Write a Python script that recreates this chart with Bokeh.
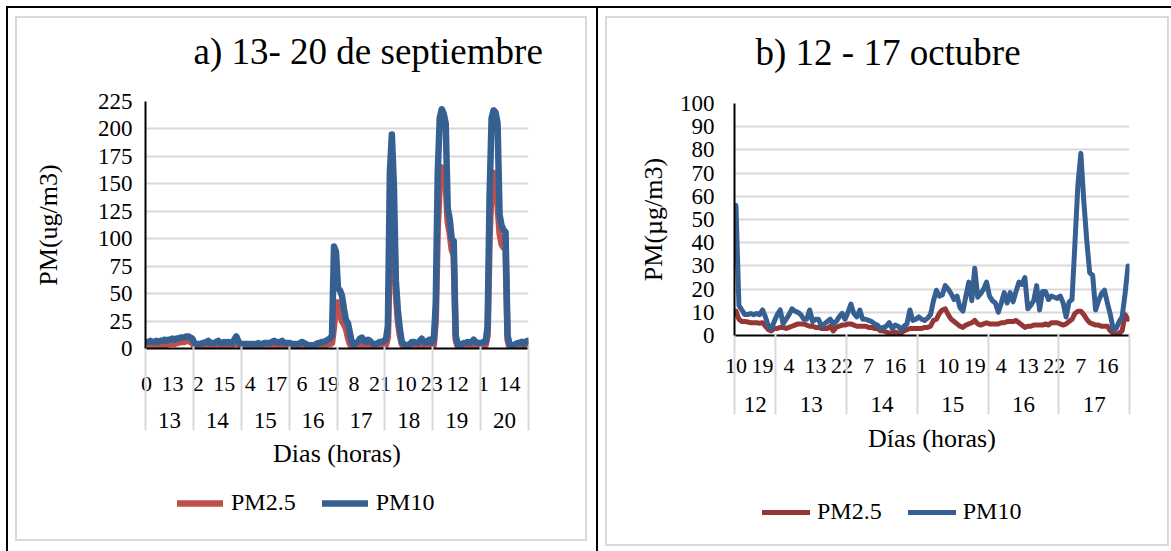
from bokeh.plotting import figure
from bokeh.models import (Range1d, FixedTicker, LinearAxis, Legend, LegendItem, Grid)
from bokeh.layouts import row, column
from bokeh.embed import file_html
from bokeh.resources import INLINE

# ---------------- data: a) 13 - 20 de septiembre (hourly) ----------------
sep_days = ["13", "14", "15", "16", "17", "18", "19", "20"]
sep_hour_labels = ["0", "13", "2", "15", "4", "17", "6", "19", "8", "21", "10", "23", "12", "1", "14"]
sep_pm10 = [
    [6, 6, 7, 6, 6, 7, 6, 7, 7, 8, 7, 8, 8, 9, 8, 9, 9, 10, 10, 10, 11, 11, 10, 9],
    [5, 4, 4, 4, 5, 5, 6, 7, 5, 5, 5, 6, 7, 5, 5, 6, 5, 6, 5, 5, 8, 11, 7, 4],
    [4, 4, 4, 4, 4, 4, 4, 4, 5, 4, 4, 5, 5, 5, 5, 6, 7, 6, 5, 6, 7, 5, 5, 5],
    [5, 4, 4, 4, 4, 5, 6, 5, 4, 3, 3, 3, 3, 4, 5, 5, 6, 6, 7, 8, 9, 12, 93, 88],
    [55, 53, 48, 36, 26, 23, 14, 5, 4, 5, 6, 9, 10, 7, 6, 8, 7, 5, 4, 4, 5, 6, 6, 7],
    [8, 20, 160, 195, 150, 62, 35, 18, 6, 4, 3, 3, 4, 6, 6, 5, 5, 7, 9, 6, 5, 7, 8, 5],
    [8, 40, 160, 210, 218, 214, 205, 128, 118, 100, 98, 12, 4, 3, 4, 5, 5, 6, 5, 6, 8, 6, 5, 5],
    [5, 6, 6, 20, 140, 210, 217, 215, 205, 122, 112, 108, 106, 12, 4, 3, 3, 4, 5, 5, 6, 4, 6, 7],
]
sep_pm25 = [
    [2, 3, 2, 2, 3, 3, 2, 3, 3, 4, 3, 4, 4, 5, 4, 5, 5, 6, 6, 6, 7, 7, 6, 5],
    [2, 1, 1, 1, 2, 2, 3, 3, 2, 2, 2, 3, 3, 2, 2, 3, 2, 3, 2, 2, 4, 6, 4, 2],
    [2, 2, 2, 2, 2, 2, 2, 2, 2, 2, 2, 2, 2, 2, 2, 3, 3, 4, 3, 2, 3, 3, 2, 2],
    [2, 1, 1, 1, 1, 2, 2, 2, 1, 0, 0, 0, 0, 1, 2, 2, 2, 3, 3, 4, 4, 5, 20, 38],
    [42, 32, 25, 22, 18, 10, 4, 1, 0, 0, 1, 3, 4, 3, 2, 3, 2, 1, 0, 0, 1, 2, 2, 3],
    [3, 10, 90, 130, 120, 50, 25, 12, 4, 1, 0, 1, 2, 3, 3, 2, 2, 3, 4, 3, 2, 3, 4, 2],
    [3, 25, 110, 150, 165, 160, 150, 115, 105, 90, 85, 8, 2, 1, 1, 2, 2, 3, 2, 3, 4, 3, 2, 2],
    [2, 3, 3, 12, 100, 150, 160, 150, 130, 105, 95, 92, 90, 8, 1, 1, 1, 2, 2, 2, 3, 2, 3, 4],
]

# ---------------- data: b) 12 - 17 octubre (hourly, from 10 h on the 12th) ----------------
oct_days = ["12", "13", "14", "15", "16", "17"]
oct_hour_labels = ["10", "19", "4", "13", "22", "7", "16", "1", "10", "19", "4", "13", "22", "7", "16"]
oct_pm10 = [
    [56, 13, 11, 9, 9, 9.5, 9, 9.5, 9, 11, 8, 4, 3, 6],
    [9, 11, 5, 7, 9, 11.5, 10.5, 10, 9, 7, 7, 11, 6, 7, 7, 4, 5, 6, 7, 5, 6, 8, 9.5, 7],
    [10, 13.5, 9.5, 8, 11, 7, 7, 6.5, 6, 5, 4.5, 3, 3.5, 4, 5.5, 3, 4.5, 4, 2.5, 4, 5, 11, 6.5, 7],
    [8, 7, 6.5, 7.5, 9, 15, 19.5, 17, 17.5, 21.5, 20, 18, 15.5, 17, 12, 10.5, 17, 23, 15, 29, 16.5, 18, 20, 23],
    [17, 15, 14, 10, 14, 18.5, 14, 18.5, 14.5, 19, 23, 22, 25, 11.5, 13, 15, 21.5, 11, 19, 19, 15.5, 17, 16.5, 16],
    [17, 14, 8, 14.5, 15.5, 40, 65, 78.5, 58, 41, 27, 26, 11, 15, 18, 19.5, 14, 9, 2.5, 3, 6, 8, 18, 30],
]
oct_pm25 = [
    [10.5, 7, 6, 6, 5.8, 5.5, 5.5, 5.5, 5.3, 5.5, 4, 2.5, 2, 3],
    [3, 3.5, 3.5, 3, 3.5, 4, 4.5, 5, 5, 5, 4.5, 4, 4, 3.5, 3.5, 3, 3, 3, 4, 2, 3.5, 4, 4.5, 4.5],
    [5, 5, 4.5, 4, 4, 4, 4, 3.5, 3.5, 3, 3, 2, 2, 1.5, 1, 1, 1.5, 1, 1, 2, 2.5, 3, 3, 3],
    [3, 3, 3.5, 3.5, 4, 6.5, 7, 9.5, 11, 11.5, 9, 7, 6, 5, 4, 3.5, 4.5, 5, 5.5, 6.5, 5, 4.5, 5, 5.5],
    [5, 5, 5, 5, 5.5, 5.5, 6, 6, 6, 6.5, 5.5, 4.5, 3.5, 4, 4, 4.5, 4.5, 4.5, 4.5, 5, 4.5, 5.5, 5.5, 5.5],
    [5, 4.5, 5, 6, 7, 9.5, 10.5, 10.5, 9, 7, 5.5, 5, 4.5, 4.5, 4, 4, 4, 2, 1, 0.5, 1, 2, 9, 7],
]

SERIF = "Liberation Serif"
GRID = "#D9D9D9"
BLUE = "#376092"


def frame_css(layers):
    """Inset box-shadows (first listed = on top) drawing page rules and chart-area border."""
    sh = []
    for col, bands in layers:
        for side, w in bands:
            dx = {"L": w, "R": -w}.get(side, 0)
            dy = {"T": w, "B": -w}.get(side, 0)
            sh.append(f"inset {dx}px {dy}px 0 0 {col}")
    return {"box-shadow": ", ".join(sh)}


def flat(days):
    return [v for d in days for v in d]


def chart(width, height, fl, fr, ft, fb, days, pm25, pm10, hour_labels, hour_step,
          ymax, ystep, red, lw, title, t_off, t_stand, ylab, y_stand, ylab_stand,
          xlab, hr_stand, band1, day_stand, band2, xlab_stand):
    y25 = flat(pm25)
    y10 = flat(pm10)
    n = len(y10)
    x = list(range(n))
    p = figure(width=width, height=height, output_backend="svg", toolbar_location=None,
               x_range=Range1d(-0.5, n - 0.5), y_range=Range1d(0, ymax),
               x_axis_type=None, y_axis_type=None,
               min_border_left=fl, min_border_right=width - fr,
               min_border_top=ft, min_border_bottom=height - fb,
               background_fill_color=None, border_fill_color=None)
    p.outline_line_color = None

    p.title.text = title
    p.title.text_font = SERIF
    p.title.text_font_size = "37px"
    p.title.text_font_style = "normal"
    p.title.text_color = "black"
    p.title.align = "left"
    p.title.vertical_align = "middle"
    p.title.offset = t_off
    p.title.standoff = t_stand

    yt = FixedTicker(ticks=list(range(0, ymax + 1, ystep)))
    yax = LinearAxis(ticker=yt, axis_label=ylab,
                     axis_line_color="black", axis_line_width=2,
                     major_tick_line_color=None, minor_tick_line_color=None,
                     major_tick_out=0, major_tick_in=0,
                     major_label_standoff=y_stand,
                     major_label_text_font=SERIF, major_label_text_font_size="23px",
                     major_label_text_color="black",
                     axis_label_standoff=ylab_stand,
                     axis_label_text_font=SERIF, axis_label_text_font_size="26px",
                     axis_label_text_font_style="normal", axis_label_text_color="black")
    p.add_layout(yax, "left")
    p.add_layout(Grid(dimension=1, ticker=yt, grid_line_color=GRID, grid_line_width=2), "center")

    lens = [len(d) for d in pm10]
    bounds = [-0.5]
    for L in lens:
        bounds.append(bounds[-1] + L)
    centers = [(bounds[k] + bounds[k + 1]) / 2 for k in range(len(lens))]
    hour_idx = list(range(0, n, hour_step))[:len(hour_labels)]
    common = dict(major_tick_line_color=None, major_tick_out=0, major_tick_in=0,
                  major_label_text_font=SERIF, major_label_text_color="black")

    ax1 = LinearAxis(ticker=FixedTicker(ticks=hour_idx),
                     major_label_overrides={i: s for i, s in zip(hour_idx, hour_labels)},
                     axis_line_color="black", axis_line_width=2,
                     minor_tick_line_color=None,
                     major_label_standoff=hr_stand, major_label_text_font_size="22px",
                     **common)
    p.add_layout(ax1, "below")

    ax2 = LinearAxis(ticker=FixedTicker(ticks=centers, minor_ticks=bounds),
                     major_label_overrides={c: s for c, s in zip(centers, days)},
                     axis_line_color=None,
                     minor_tick_line_color=GRID, minor_tick_line_width=2,
                     minor_tick_in=band1, minor_tick_out=0,
                     major_label_standoff=day_stand, major_label_text_font_size="23px",
                     **common)
    p.add_layout(ax2, "below")

    ax3 = LinearAxis(ticker=FixedTicker(ticks=[], minor_ticks=bounds),
                     axis_line_color=None,
                     minor_tick_line_color=GRID, minor_tick_line_width=2,
                     minor_tick_in=band2, minor_tick_out=0,
                     major_label_standoff=0, major_label_text_font_size="23px",
                     axis_label=xlab, axis_label_standoff=xlab_stand,
                     axis_label_text_font=SERIF, axis_label_text_font_size="26px",
                     axis_label_text_font_style="normal", axis_label_text_color="black",
                     **common)
    p.add_layout(ax3, "below")

    p.line(x, y25, line_color=red, line_width=lw, line_join="round", line_cap="round")
    p.line(x, y10, line_color=BLUE, line_width=lw, line_join="round", line_cap="round")
    return p


def legend_strip(width, height, pm25, pm10, red, lw, loc, gw, stand, spacing):
    y25 = flat(pm25)
    y10 = flat(pm10)
    x = list(range(len(y10)))
    lf = figure(width=width, height=height, output_backend="svg", toolbar_location=None,
                x_axis_type=None, y_axis_type=None, min_border=0,
                x_range=Range1d(0, 1), y_range=Range1d(0, 1),
                background_fill_color=None, border_fill_color=None)
    lf.outline_line_color = None
    k25 = lf.line(x, y25, line_color=red, line_width=lw, line_cap="round", visible=False)
    k10 = lf.line(x, y10, line_color=BLUE, line_width=lw, line_cap="round", visible=False)
    leg = Legend(items=[LegendItem(label="PM2.5", renderers=[k25]),
                        LegendItem(label="PM10", renderers=[k10])],
                 orientation="horizontal", location=loc,
                 glyph_width=gw, glyph_height=24, label_standoff=stand, spacing=spacing,
                 padding=0, margin=0, border_line_color=None, background_fill_alpha=0,
                 inactive_fill_alpha=0,
                 label_text_font=SERIF, label_text_font_size="24px", label_text_color="black")
    lf.add_layout(leg, "center")
    return lf


HC, HL = 470, 81
WA, WB = 598, 573

ca = chart(WA, HC, 145, 528, 101, 348, sep_days, sep_pm25, sep_pm10, sep_hour_labels, 13,
           225, 25, "#C0504D", 6.5, "a) 13- 20 de septiembre", 48, 58,
           "PM(ug/m3)", 13, 32, "Dias (horas)", 28, 47, 19, 39, 8)
la = legend_strip(WA, HL, sep_pm25, sep_pm10, "#C0504D", 6.5, (32, 35), 46, 8, 26)

cb = chart(WB, HC, 136, 531, 103, 335, oct_days, oct_pm25, oct_pm10, oct_hour_labels, 9,
           100, 10, "#953735", 5, "b) 12 - 17 octubre", 21, 60,
           "PM(µg/m3)", 20, 9, "Días (horas)", 23, 42, 21, 41, 9)
lb = legend_strip(WB, HL, oct_pm25, oct_pm10, "#953735", 5, (28, 26), 48, 7, 26)

col_a = column(ca, la, spacing=0, styles=frame_css([
    ("#fff", [("L", 6), ("T", 6)]),
    ("#000", [("L", 8), ("T", 8), ("R", 2)]),
    ("#fff", [("L", 15), ("R", 11), ("T", 16), ("B", 10)]),
    (GRID, [("L", 17), ("R", 13), ("T", 18), ("B", 12)]),
]))
col_b = column(cb, lb, spacing=0, styles=frame_css([
    ("#fff", [("T", 6)]),
    ("#000", [("T", 8)]),
    ("#fff", [("L", 7), ("R", 2), ("T", 16), ("B", 5)]),
    (GRID, [("L", 9), ("R", 4), ("T", 18), ("B", 7)]),
]))

layout = row(col_a, col_b, spacing=0)
open("out.html", "w").write(file_html(layout, INLINE))
